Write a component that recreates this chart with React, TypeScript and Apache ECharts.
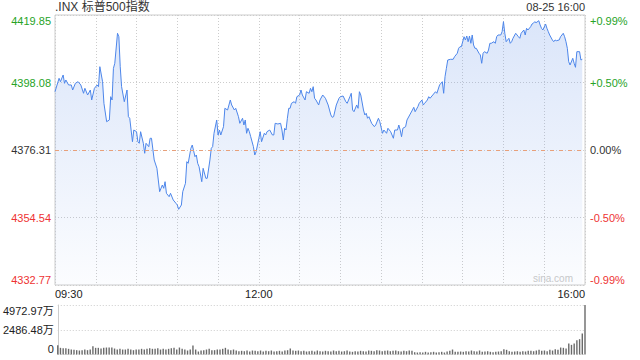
import React, { useEffect, useRef } from 'react';
import * as echarts from 'echarts';

const PREV_CLOSE = 4376.31;
const SPAN = 43.54;
const STEP = 21.77;
const VOL_MAX = 4972.97;

const minutes = [
  0, 3, 4, 6, 7, 8, 10, 12, 13, 15, 17, 19, 21, 22, 24, 26, 27, 29, 31, 32, 33, 35, 36, 38, 40, 41, 42, 43, 44, 46,
  47, 48, 49, 51, 53, 54, 55, 56, 57, 58, 60, 61, 62, 63, 65, 66, 67, 69, 70, 71, 73, 75, 76, 77, 79, 80, 81, 82, 84, 85,
  87, 89, 90, 91, 93, 94, 96, 97, 98, 100, 101, 103, 104, 105, 106, 108, 109, 111, 112, 114, 115, 116, 117, 119, 120, 121, 122, 124, 125, 127,
  129, 130, 132, 133, 135, 136, 138, 139, 140, 141, 142, 143, 144, 146, 147, 148, 150, 151, 152, 154, 155, 156, 158, 160, 161, 162, 164, 166, 167, 168,
  169, 170, 171, 172, 173, 174, 176, 177, 178, 180, 181, 182, 184, 185, 187, 188, 189, 190, 191, 192, 194, 195, 197, 199, 201, 203, 204, 205, 207, 209,
  210, 212, 214, 215, 217, 218, 219, 220, 222, 223, 224, 225, 227, 228, 229, 230, 231, 233, 235, 236, 238, 239, 241, 242, 244, 245, 247, 249, 250, 252,
  253, 254, 255, 256, 258, 259, 261, 263, 264, 265, 267, 268, 270, 271, 272, 274, 275, 276, 278, 280, 281, 283, 285, 286, 287, 288, 289, 291, 293, 294,
  296, 297, 298, 299, 301, 302, 303, 304, 305, 306, 307, 308, 309, 310, 312, 313, 314, 315, 316, 318, 319, 320, 321, 323, 324, 325, 326, 328, 329, 330,
  331, 332, 333, 334, 335, 336, 337, 339, 340, 341, 342, 343, 345, 346, 347, 348, 350, 351, 352, 353, 354, 356, 357, 358, 359, 361, 362, 363, 364, 366,
  367, 368, 369, 371, 372, 374, 375, 376, 377, 378, 379, 381, 382, 383, 384, 386, 387, 388,
];

const prices = [
  4395.11, 4399.44, 4398.34, 4400.5, 4397.82, 4398.89, 4397.28, 4397.28, 4395.66, 4397.82, 4398.34, 4397.28, 4394.6, 4396.21, 4394.05, 4395.66, 4392.44, 4396.21, 4397.28, 4396.73, 4403.18, 4398.34, 4391.37, 4385.44, 4385.99, 4393.5, 4392.44, 4402.66, 4404.27, 4413.95,
  4412.85, 4403.18, 4396.73, 4391.89, 4395.66, 4387.05, 4386.54, 4382.76, 4378.99, 4382.76, 4382.21, 4378.99, 4378.47, 4382.21, 4378.47, 4375.25, 4378.47, 4377.38, 4380.09, 4380.09, 4373.09, 4370.41, 4366.64, 4362.86, 4365.02, 4363.96, 4366.09, 4362.35, 4361.25, 4362.35,
  4360.19, 4359.12, 4358.57, 4357.19, 4358.57, 4362.86, 4365.57, 4372.54, 4372.02, 4376.86, 4377.92, 4374.15, 4374.7, 4372.02, 4370.93, 4366.09, 4370.41, 4367.18, 4367.18, 4373.09, 4376.86, 4377.38, 4381.7, 4385.99, 4381.15, 4382.76, 4381.15, 4383.83, 4389.76, 4389.21,
  4392.44, 4390.83, 4389.21, 4389.76, 4387.05, 4384.92, 4386.54, 4384.37, 4385.99, 4381.7, 4383.31, 4382.21, 4380.6, 4377.38, 4374.7, 4375.76, 4380.09, 4382.21, 4378.99, 4381.7, 4381.15, 4382.21, 4382.76, 4381.15, 4381.15, 4384.92, 4384.7, 4384.92, 4382.76, 4379.54,
  4383.31, 4382.76, 4386.54, 4389.76, 4389.76, 4391.37, 4391.89, 4391.37, 4393.5, 4394.05, 4395.66, 4394.05, 4392.44, 4395.11, 4394.6, 4396.21, 4395.11, 4396.73, 4392.99, 4392.44, 4390.83, 4392.44, 4394.05, 4392.99, 4390.83, 4387.6, 4386.86, 4387.05, 4390.83, 4392.99,
  4393.5, 4393.73, 4391.89, 4391.37, 4393.5, 4394.6, 4389.21, 4388.66, 4390.83, 4389.76, 4395.11, 4394.05, 4389.21, 4387.6, 4388.15, 4386.54, 4387.05, 4384.92, 4383.83, 4384.37, 4386.54, 4385.44, 4381.7, 4382.76, 4381.7, 4383.31, 4382.21, 4380.09, 4382.76, 4382.76,
  4384.37, 4382.76, 4380.6, 4383.31, 4383.83, 4385.99, 4387.6, 4389.21, 4390.08, 4388.66, 4390.28, 4391.37, 4392.44, 4390.83, 4391.37, 4392.44, 4393.5, 4393.0, 4394.05, 4395.11, 4394.6, 4397.28, 4398.34, 4394.6, 4399.95, 4402.66, 4405.34, 4405.56, 4405.56, 4406.4,
  4407.5, 4409.11, 4409.63, 4409.63, 4412.85, 4411.79, 4413.08, 4411.24, 4413.08, 4410.72, 4413.4, 4410.18, 4409.11, 4409.11, 4407.5, 4406.95, 4404.27, 4407.5, 4408.02, 4407.5, 4408.56, 4410.72, 4410.72, 4411.24, 4410.72, 4412.85, 4413.4, 4413.4, 4414.47, 4417.69,
  4413.95, 4411.24, 4411.79, 4412.34, 4410.72, 4411.24, 4412.34, 4413.95, 4413.4, 4412.85, 4412.34, 4413.95, 4415.01, 4413.4, 4415.56, 4415.01, 4416.08, 4416.95, 4417.18, 4417.69, 4417.37, 4418.01, 4416.63, 4415.56, 4415.01, 4416.95, 4415.56, 4414.47, 4413.4, 4411.79,
  4411.24, 4411.79, 4411.56, 4411.79, 4412.85, 4413.95, 4412.85, 4411.24, 4409.11, 4404.79, 4403.73, 4405.89, 4404.27, 4402.98, 4408.02, 4408.02, 4405.34, 4405.56,
];

// volume in 万, one bar per 2 minutes from 09:30 to 16:00
const volumes = [
  940, 670, 630, 630, 570, 500, 470, 435, 400, 435, 500, 435, 500, 840, 670, 670, 600, 670, 700, 700,
  700, 600, 500, 570, 500, 500, 570, 500, 435, 500, 500, 570, 500, 570, 630, 570, 570, 630, 500, 570,
  500, 570, 630, 670, 500, 700, 570, 500, 400, 500, 900, 500, 300, 400, 435, 500, 570, 435, 435, 500,
  500, 570, 670, 500, 435, 500, 400, 330, 370, 330, 400, 300, 400, 370, 330, 400, 300, 370, 330, 400,
  300, 330, 370, 300, 400, 430, 600, 400, 370, 400, 330, 370, 300, 330, 370, 300, 400, 330, 300, 370,
  330, 300, 400, 330, 370, 300, 330, 400, 300, 270, 330, 300, 370, 330, 300, 400, 370, 330, 430, 400,
  330, 370, 400, 330, 370, 400, 330, 300, 370, 330, 400, 370, 230, 200, 230, 200, 270, 200, 230, 270,
  200, 230, 270, 200, 300, 370, 500, 270, 270, 300, 270, 330, 300, 400, 330, 300, 400, 270, 300, 330,
  270, 230, 270, 300, 330, 530, 470, 330, 270, 300, 330, 270, 330, 300, 370, 370, 330, 400, 470, 370,
  400, 330, 470, 400, 530, 470, 700, 670, 600, 1100, 970, 1100, 1440, 1540, 2110, 4972.97,
];

const priceTickLabels = ['4332.77', '4354.54', '4376.31', '4398.08', '4419.85'];
const pctTickLabels = ['-0.99%', '-0.50%', '0.00%', '+0.50%', '+0.99%'];
const volTickLabels = ['0', '2486.48万', '4972.97万'];
const timeTickMinutes = [0, 150, 390];
const timeTickLabels = ['09:30', '12:00', '16:00'];

const FONT = '"Liberation Sans", Arial, "Noto Sans CJK SC", sans-serif';
const GREEN = '#26a326';
const RED = '#ee3333';
const DARK = '#333333';
const GRID_LINE = '#cccccc';

export default function App() {
  const ref = useRef<HTMLDivElement>(null);

  useEffect(() => {
    const chart = echarts.init(ref.current as HTMLDivElement, null, { renderer: 'svg' });

    const lineData = minutes.map((m, i) => [m, +(prices[i] - PREV_CLOSE).toFixed(2)]);
    const volData = volumes.map((v, i) => [i * 2, v]);

    const tickIndex = (v: number) => Math.round((v + SPAN) / STEP);
    const cls = (i: number) => (i > 2 ? 'g' : i < 2 ? 'r' : 'n');
    const rich = {
      g: { color: GREEN, fontSize: 11, fontFamily: FONT },
      r: { color: RED, fontSize: 11, fontFamily: FONT },
      n: { color: DARK, fontSize: 11, fontFamily: FONT },
    };

    const option: any = {
      animation: false,
      backgroundColor: '#ffffff',
      textStyle: { fontFamily: FONT },
      grid: [
        { left: 55, right: 55, top: 15, height: 270, show: true, borderColor: GRID_LINE, borderWidth: 1 },
        { left: 55, right: 55, top: 305, height: 49.5, show: false },
      ],
      xAxis: [
        {
          type: 'value',
          gridIndex: 0,
          min: 0,
          max: 390,
          interval: 30,
          axisLine: { show: false },
          axisTick: { show: false },
          splitLine: { show: true, lineStyle: { color: GRID_LINE, type: [1, 2], width: 1 } },
          axisLabel: {
            show: true,
            margin: 3,
            fontSize: 11,
            color: '#222',
            fontFamily: FONT,
            alignMinLabel: 'left',
            alignMaxLabel: 'right',
            formatter: (v: number) => {
              const k = timeTickMinutes.indexOf(Math.round(v));
              return k >= 0 ? timeTickLabels[k] : '';
            },
          },
        },
        {
          type: 'value',
          gridIndex: 1,
          min: 0,
          max: 390,
          show: false,
        },
      ],
      yAxis: [
        {
          type: 'value',
          gridIndex: 0,
          min: -SPAN,
          max: SPAN,
          interval: STEP,
          position: 'left',
          axisLine: { show: false },
          axisTick: { show: false },
          splitLine: { show: true, lineStyle: { color: GRID_LINE, type: [1, 2], width: 1 } },
          axisLabel: {
            margin: 4,
            verticalAlignMaxLabel: 'top',
            verticalAlignMinLabel: 'bottom',
            formatter: (v: number) => {
              const i = tickIndex(v);
              return `{${cls(i)}|${priceTickLabels[i]}}`;
            },
            rich,
          },
        },
        {
          type: 'value',
          gridIndex: 0,
          min: -SPAN,
          max: SPAN,
          interval: STEP,
          position: 'right',
          axisLine: { show: false },
          axisTick: { show: false },
          splitLine: { show: false },
          axisLabel: {
            margin: 5,
            verticalAlignMaxLabel: 'top',
            verticalAlignMinLabel: 'bottom',
            formatter: (v: number) => {
              const i = tickIndex(v);
              return `{${cls(i)}|${pctTickLabels[i]}}`;
            },
            rich,
          },
        },
        {
          type: 'value',
          gridIndex: 1,
          min: 0,
          max: VOL_MAX,
          interval: VOL_MAX / 2,
          axisLine: { show: true, lineStyle: { color: GRID_LINE } },
          axisTick: { show: false },
          splitLine: { show: true, lineStyle: { color: GRID_LINE, type: [1, 2], width: 1 } },
          axisLabel: {
            margin: 4,
            fontSize: 11,
            color: '#222',
            fontFamily: FONT,
            verticalAlignMaxLabel: 'top',
            verticalAlignMinLabel: 'bottom',
            formatter: (v: number) => volTickLabels[Math.round((v / VOL_MAX) * 2)],
          },
        },
      ],
      series: [
        {
          type: 'line',
          xAxisIndex: 0,
          yAxisIndex: 0,
          data: lineData,
          showSymbol: false,
          symbol: 'none',
          lineStyle: { color: '#4d86ea', width: 1 },
          areaStyle: {
            origin: 'start',
            color: new echarts.graphic.LinearGradient(0, 0, 0, 1, [
              { offset: 0, color: 'rgba(120,160,235,0.38)' },
              { offset: 1, color: 'rgba(120,160,235,0.04)' },
            ]),
          },
          markLine: {
            silent: true,
            symbol: 'none',
            label: { show: false },
            lineStyle: { color: '#e8a07a', type: [4, 5], width: 1 },
            data: [{ yAxis: 0 }],
          },
        },
        {
          type: 'bar',
          xAxisIndex: 1,
          yAxisIndex: 2,
          data: volData,
          barWidth: 1.4,
          clip: false,
          itemStyle: { color: '#6a6a6a' },
        },
      ],
      graphic: [
        {
          type: 'text',
          left: 55,
          top: 1,
          style: { text: '.INX 标普500指数', fill: DARK, font: `12px ${FONT}` },
        },
        {
          type: 'text',
          right: 55,
          top: 1,
          style: { text: '08-25 16:00', fill: DARK, font: `11px ${FONT}` },
        },
        {
          type: 'text',
          right: 67,
          top: 273,
          style: { text: 'sina.com', fill: '#c9c9c9', font: `10px ${FONT}` },
        },
      ],
    };

    chart.setOption(option);
    return () => chart.dispose();
  }, []);

  return (
    <div
      ref={ref}
      style={{ position: 'absolute', left: 0, top: 0, width: 640, height: 360 }}
    />
  );
}
